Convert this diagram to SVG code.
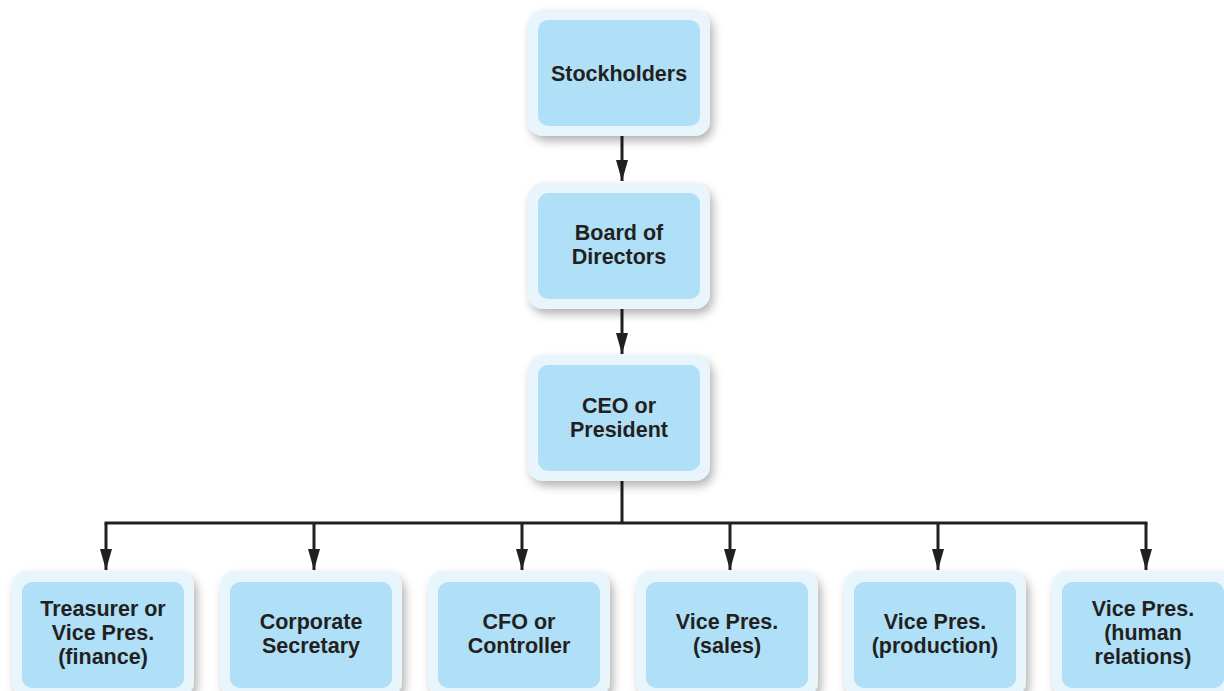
<svg xmlns="http://www.w3.org/2000/svg" width="1224" height="691" viewBox="0 0 1224 691">
<defs>
<filter id="sh" x="-20%" y="-20%" width="140%" height="140%">
<feDropShadow dx="3" dy="5" stdDeviation="5" flood-color="#000" flood-opacity="0.3"/>
</filter>
<marker id="ah" markerUnits="userSpaceOnUse" markerWidth="21" markerHeight="12" refX="21" refY="6" orient="auto">
<path d="M0,0 L21,6 L0,12 z" fill="#231f20"/>
</marker>
<style>
.outer{fill:#e8f5fc;filter:url(#sh)}
.inner{fill:#afe0f7}
text{font-family:"Liberation Sans",Arial,sans-serif;font-weight:bold;font-size:21.5px;fill:#231f20;text-anchor:middle}
.c{fill:none;stroke:#231f20;stroke-width:3}
</style>
</defs>
<rect width="1224" height="691" fill="#fff"/>
<g id="connectors">
<path class="c" d="M622,136 V181" marker-end="url(#ah)"/>
<path class="c" d="M622,309 V354" marker-end="url(#ah)"/>
<path class="c" d="M622,481 V523"/>
<path class="c" d="M104.5,523 H1147.5"/>
<path class="c" d="M106,523 V570" marker-end="url(#ah)"/>
<path class="c" d="M314,523 V570" marker-end="url(#ah)"/>
<path class="c" d="M522,523 V570" marker-end="url(#ah)"/>
<path class="c" d="M730,523 V570" marker-end="url(#ah)"/>
<path class="c" d="M938,523 V570" marker-end="url(#ah)"/>
<path class="c" d="M1146,523 V570" marker-end="url(#ah)"/>
</g>
<g id="stockholders">
<rect class="outer" x="528" y="10" width="182" height="126" rx="15"/>
<rect class="inner" x="538" y="20" width="162" height="106" rx="10"/>
<text x="619" y="81">Stockholders</text>
</g>
<g id="board">
<rect class="outer" x="528" y="183" width="182" height="126" rx="15"/>
<rect class="inner" x="538" y="193" width="162" height="106" rx="10"/>
<text x="619" y="240">Board of</text>
<text x="619" y="264">Directors</text>
</g>
<g id="ceo">
<rect class="outer" x="528" y="355" width="182" height="126" rx="15"/>
<rect class="inner" x="538" y="365" width="162" height="106" rx="10"/>
<text x="619" y="413">CEO or</text>
<text x="619" y="437">President</text>
</g>
<g id="treasurer">
<rect class="outer" x="12" y="571" width="182" height="126" rx="15"/>
<rect class="inner" x="22" y="582" width="162" height="106" rx="10"/>
<text x="103" y="616">Treasurer or</text>
<text x="103" y="640">Vice Pres.</text>
<text x="103" y="664">(finance)</text>
</g>
<g id="secretary">
<rect class="outer" x="220" y="571" width="182" height="126" rx="15"/>
<rect class="inner" x="230" y="582" width="162" height="106" rx="10"/>
<text x="311" y="629">Corporate</text>
<text x="311" y="653">Secretary</text>
</g>
<g id="cfo">
<rect class="outer" x="428" y="571" width="182" height="126" rx="15"/>
<rect class="inner" x="438" y="582" width="162" height="106" rx="10"/>
<text x="519" y="629">CFO or</text>
<text x="519" y="653">Controller</text>
</g>
<g id="vp-sales">
<rect class="outer" x="636" y="571" width="182" height="126" rx="15"/>
<rect class="inner" x="646" y="582" width="162" height="106" rx="10"/>
<text x="727" y="629">Vice Pres.</text>
<text x="727" y="653">(sales)</text>
</g>
<g id="vp-production">
<rect class="outer" x="844" y="571" width="182" height="126" rx="15"/>
<rect class="inner" x="854" y="582" width="162" height="106" rx="10"/>
<text x="935" y="629">Vice Pres.</text>
<text x="935" y="653">(production)</text>
</g>
<g id="vp-hr">
<rect class="outer" x="1052" y="571" width="182" height="126" rx="15"/>
<rect class="inner" x="1062" y="582" width="162" height="106" rx="10"/>
<text x="1143" y="616">Vice Pres.</text>
<text x="1143" y="640">(human</text>
<text x="1143" y="664">relations)</text>
</g>
</svg>
